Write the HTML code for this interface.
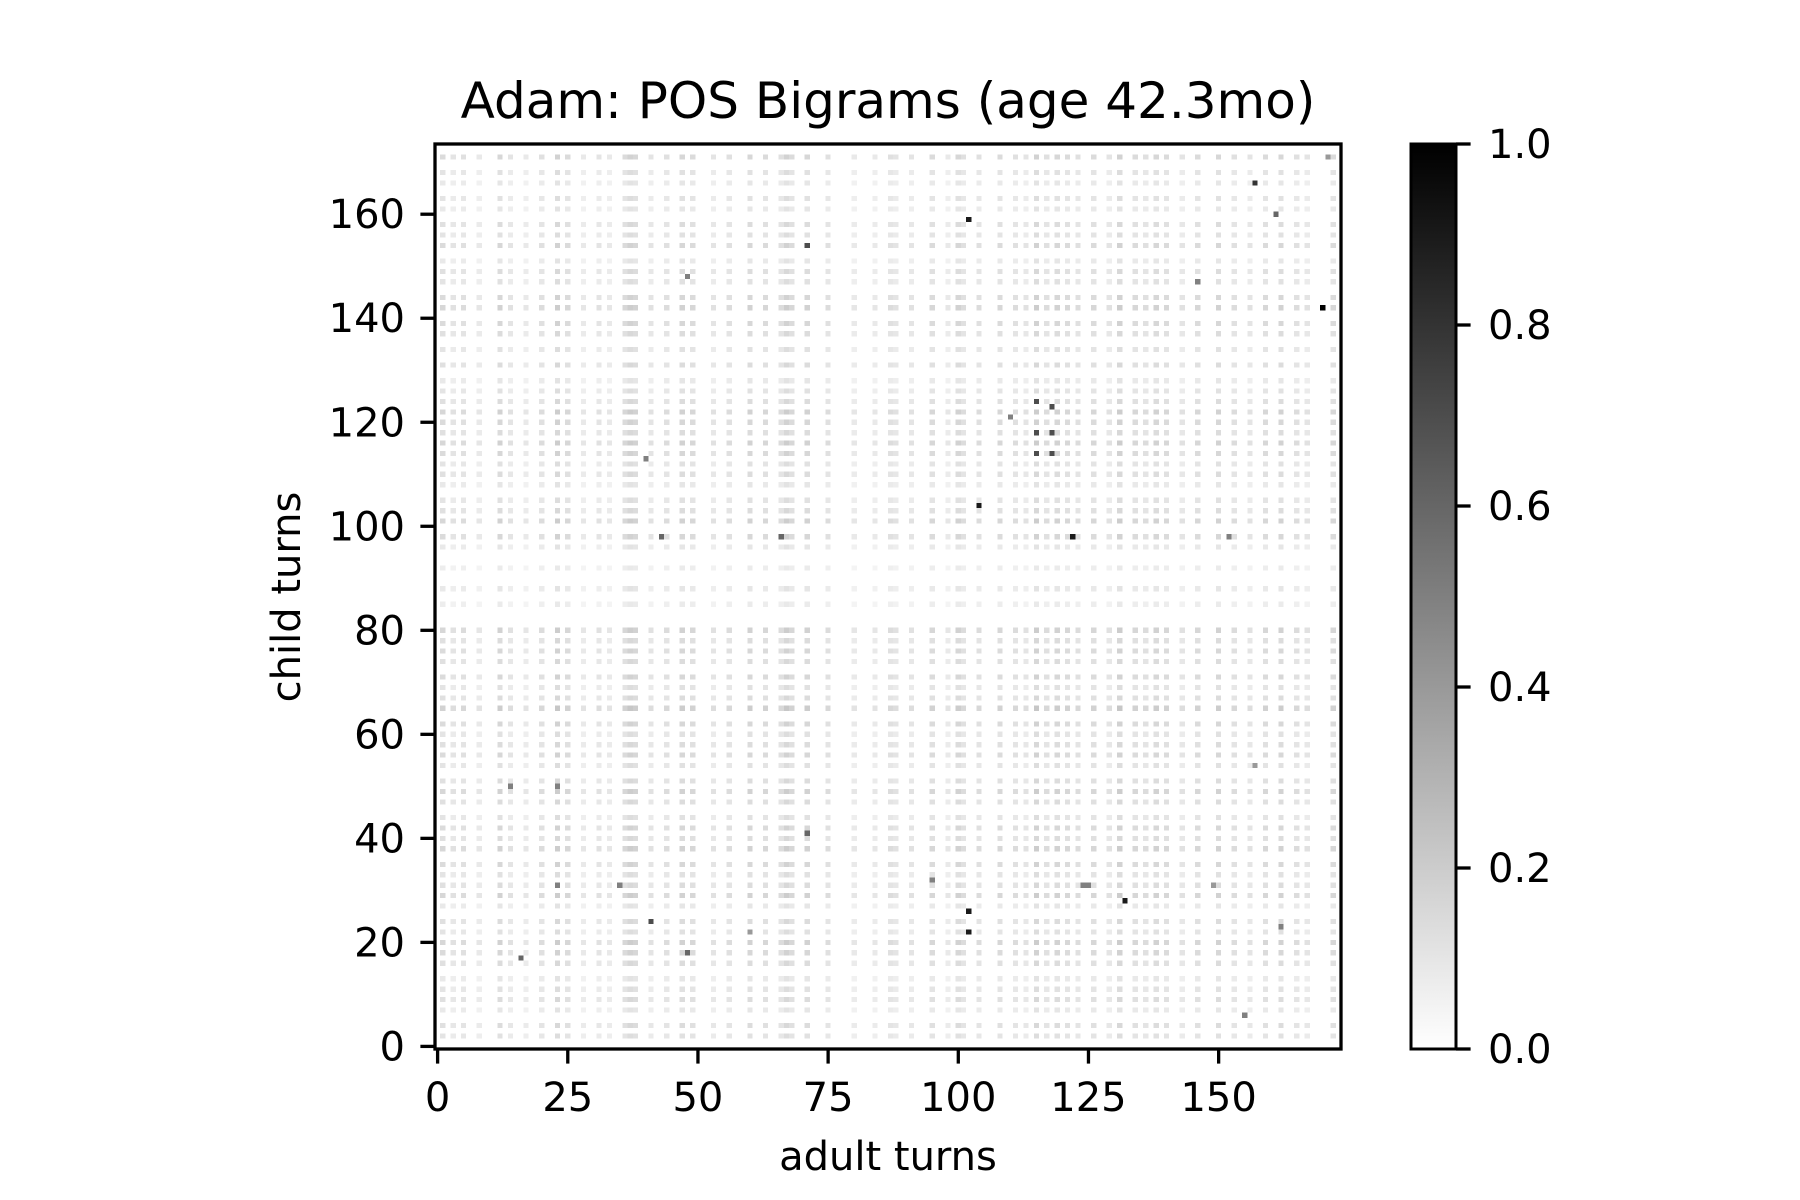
<!DOCTYPE html>
<html><head><meta charset="utf-8">
<style>
html,body{margin:0;padding:0;background:#fff;}
#wrap{position:relative;width:1800px;height:1200px;overflow:hidden;font-family:"DejaVu Sans","Liberation Sans",sans-serif;}
#heat{position:absolute;left:435px;top:144px;width:906px;height:905px;image-rendering:pixelated;}
svg{position:absolute;left:0;top:0;}
text{font-family:"DejaVu Sans","Liberation Sans",sans-serif;fill:#000;}
</style></head>
<body>
<div id="wrap">
<canvas id="heat" width="174" height="174"></canvas>
<svg id="svg" width="1800" height="1200">
<defs><linearGradient id="cg" x1="0" y1="1" x2="0" y2="0"><stop offset="0" stop-color="#fff"/><stop offset="1" stop-color="#000"/></linearGradient></defs>
<text x="888" y="118" font-size="50" text-anchor="middle">Adam: POS Bigrams (age 42.3mo)</text>
<text x="888" y="1170" font-size="40" text-anchor="middle">adult turns</text>
<text transform="translate(300,597) rotate(-90)" font-size="40" text-anchor="middle">child turns</text>
<rect x="1411" y="144" width="45" height="905" fill="url(#cg)" stroke="#000" stroke-width="3"/>
</svg>
</div>
<script>
const N = 174;
const xTicks = [0,25,50,75,100,125,150];
const yTicks = [0,20,40,60,80,100,120,140,160];
const cbTicks = [0.0,0.2,0.4,0.6,0.8,1.0];
const activeCols = [1,3,5,8,12,14,17,20,23,25,28,31,33,36,37,38,41,44,47,49,53,56,60,63,66,67,68,71,75,80,84,87,88,91,95,98,100,101,104,108,111,113,115,117,119,121,123,126,129,131,134,136,138,140,143,146,150,153,156,159,162,165,167,172];
const colWeights = [0.8,0.6,0.7,0.5,0.9,0.6,0.5,0.7,1.0,0.8,0.5,0.6,0.5,0.8,1.0,0.9,0.6,0.7,0.9,0.8,0.6,0.7,0.9,0.8,0.7,1.0,0.8,0.9,0.7,0.5,0.5,0.7,0.6,0.6,0.8,0.5,0.9,0.7,0.7,0.8,0.7,0.6,1.0,0.7,0.9,0.8,0.7,0.8,0.6,1.0,0.8,0.7,0.9,0.8,0.6,0.8,0.9,0.7,0.6,0.8,0.9,0.7,0.6,0.8];
const activeRows = [2,4,7,9,11,13,16,18,20,22,24,27,29,31,33,35,38,40,42,44,47,49,51,54,56,58,60,62,65,67,69,71,74,76,78,80,85,88,92,96,98,101,103,105,108,110,112,114,116,118,120,122,124,126,128,131,134,137,139,142,144,147,149,151,154,156,158,161,163,166,168,171];
const rowWeights = [0.6,0.7,0.5,0.7,0.6,0.5,0.7,0.8,0.9,0.6,0.7,0.5,0.9,0.7,0.6,0.8,0.9,0.7,0.8,0.6,0.7,0.9,0.7,0.6,0.8,0.7,0.6,0.8,1.0,0.7,0.6,0.8,0.7,0.8,0.7,0.9,0.4,0.5,0.4,0.5,0.8,0.9,0.7,0.6,0.5,0.7,0.6,0.8,0.9,0.7,0.8,0.9,0.7,0.6,0.5,0.7,0.6,0.7,0.8,0.9,0.8,0.6,0.7,0.5,0.8,0.6,0.7,0.5,0.6,0.5,0.6,0.8];
const pointX = [170,102,157,161,71,146,104,122,102,102,132,115,118,115,118,115,118,41,48,16,23,66,43,48,162,155,71,23,14,40,110,152,95,124,149,157,171,35,60,125];
const pointY = [142,159,166,160,154,147,104,98,26,22,28,124,123,118,118,114,114,24,18,17,31,98,98,148,23,6,41,50,50,113,121,98,32,31,31,54,171,31,22,31];
const pointV = [1.0,0.9,0.8,0.6,0.7,0.5,0.9,0.9,0.9,0.9,0.9,0.7,0.7,0.7,0.7,0.7,0.7,0.7,0.6,0.6,0.5,0.6,0.6,0.5,0.5,0.5,0.6,0.5,0.5,0.5,0.5,0.5,0.5,0.5,0.4,0.4,0.4,0.5,0.4,0.5];

const L=435,T=144,W=906,H=905;
function xs(v){return L + (v+0.5)/N*W;}
function ys(v){return T + H - (v+0.5)/N*H;}

const cv=document.getElementById('heat'),ctx=cv.getContext('2d');
const img=ctx.createImageData(N,N);
const vals=new Float32Array(N*N);
for(let i=0;i<activeRows.length;i++)for(let j=0;j<activeCols.length;j++){
  const r=activeRows[i],c=activeCols[j];
  vals[r*N+c]=Math.max(vals[r*N+c],0.22*rowWeights[i]*colWeights[j]);
}
for(let k=0;k<pointX.length;k++){vals[pointY[k]*N+pointX[k]]=pointV[k];}
for(let r=0;r<N;r++)for(let c=0;c<N;c++){
  const v=vals[r*N+c];const g=Math.round(255*(1-v));
  const idx=((N-1-r)*N+c)*4;img.data[idx]=g;img.data[idx+1]=g;img.data[idx+2]=g;img.data[idx+3]=255;
}
ctx.putImageData(img,0,0);

const svg=document.getElementById('svg');const NS='http://www.w3.org/2000/svg';
function mk(tag,attrs,parent){const e=document.createElementNS(NS,tag);for(const k in attrs)e.setAttribute(k,attrs[k]);(parent||svg).appendChild(e);return e;}
const frame=mk('rect',{x:L,y:T,width:W,height:H,fill:'none',stroke:'#000','stroke-width':3.3});


xTicks.forEach(v=>{
  const x=xs(v);
  const t=mk('line',{x1:x,x2:x,y1:T+H,y2:T+H+14.6,stroke:'#000','stroke-width':3.3});
  
  
  const l=mk('text',{x:x,y:T+H+62,'font-size':40,'text-anchor':'middle'});l.textContent=v;
  
  
});
yTicks.forEach(v=>{
  const y=ys(v);
  const t=mk('line',{x1:L-14.6,x2:L,y1:y,y2:y,stroke:'#000','stroke-width':3.3});
  
  
  const l=mk('text',{x:L-30,y:y+14,'font-size':40,'text-anchor':'end'});l.textContent=v;
  
  
});
cbTicks.forEach(v=>{
  const y=T+H-v*H;
  const t=mk('line',{x1:1456,x2:1470.6,y1:y,y2:y,stroke:'#000','stroke-width':3.3});
  
  
  const l=mk('text',{x:1488,y:y+14,'font-size':40});l.textContent=v.toFixed(1);
  
  
});
</script>
</body></html>
